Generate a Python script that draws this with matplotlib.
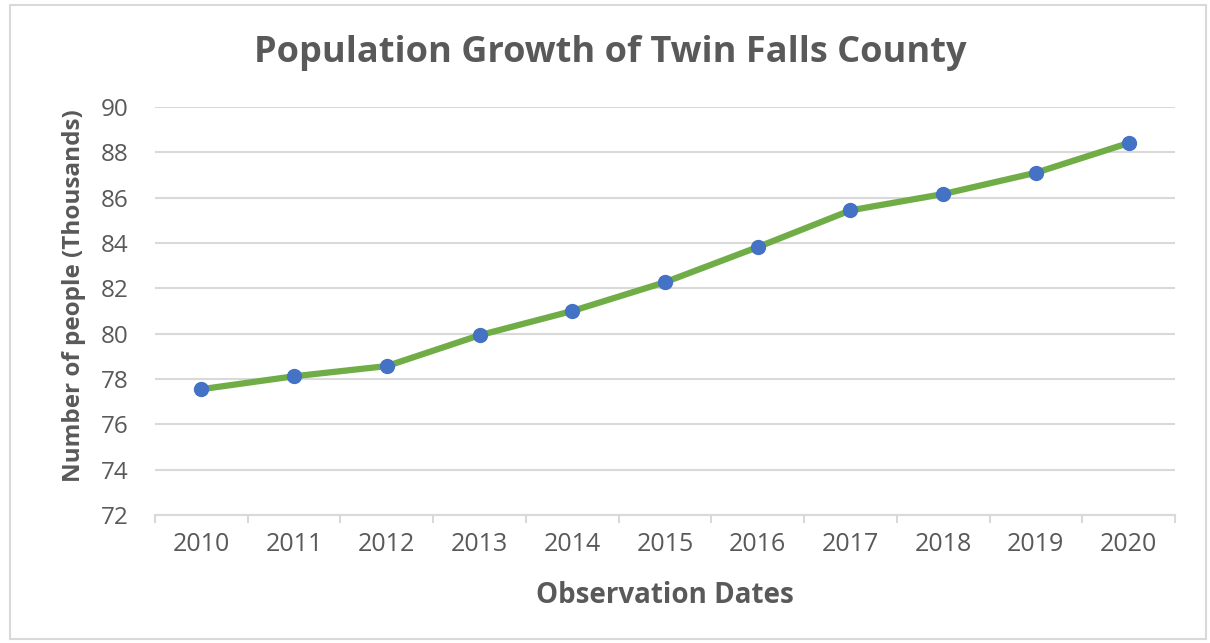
import numpy as np
import matplotlib.pyplot as plt
from matplotlib.patches import Rectangle

# Données
years = ['2010', '2011', '2012', '2013', '2014', '2015',
         '2016', '2017', '2018', '2019', '2020']
population = [77.55, 78.12, 78.57, 79.93, 81.0, 82.27,
              83.82, 85.44, 86.16, 87.1, 88.41]
y_ticks = [72, 74, 76, 78, 80, 82, 84, 86, 88, 90]

plt.rcParams['font.family'] = ['Open Sans', 'DejaVu Sans']
txt = '#595959'

fig = plt.figure(figsize=(12.1, 6.43), dpi=100)
fig.patches.append(Rectangle((10/1210, 4/643), 1196/1210, 634/643,
                             transform=fig.transFigure, fill=False,
                             edgecolor='#d9d9d9', linewidth=1.5))
ax = fig.add_axes([155/1210, 1 - 515/643, 1020/1210, 408/643])

x = np.arange(len(years))
ax.plot(x, population, color='#70ad47', linewidth=4.5, zorder=3)
ax.plot(x, population, 'o', color='#4472c4', markersize=10, zorder=4)

ax.set_xlim(-0.5, len(years) - 0.5)
ax.set_ylim(72, 90)
ax.set_yticks(y_ticks)
ax.set_xticks(x)
ax.set_xticklabels(years)
ax.set_xticks(np.arange(-0.5, len(years)), minor=True)
ax.grid(axis='y', color='#d9d9d9', linewidth=1.5, zorder=0)

for s in ['top', 'right', 'left']:
    ax.spines[s].set_visible(False)
ax.spines['bottom'].set_color('#d9d9d9')
ax.spines['bottom'].set_linewidth(1.5)
ax.tick_params(axis='x', which='major', length=0, pad=12, labelsize=18, labelcolor=txt)
ax.tick_params(axis='x', which='minor', length=6, width=1.5, color='#d9d9d9')
ax.tick_params(axis='y', length=0, pad=19, labelsize=17.5, labelcolor=txt)

# Titres placés en coordonnées figure
fig.text(610/1210, 1 - 62/643, 'Population Growth of Twin Falls County',
         fontsize=26, fontweight='bold', color=txt, ha='center', va='baseline')
fig.text(665/1210, 1 - 603/643, 'Observation Dates',
         fontsize=20, fontweight='bold', color=txt, ha='center', va='baseline')
fig.text(74/1210, 1 - 296/643, 'Number of people (Thousands)', rotation=90,
         fontsize=17.5, fontweight='bold', color=txt, ha='center', va='center')

fig.savefig('out.png', dpi=100, facecolor='white')
